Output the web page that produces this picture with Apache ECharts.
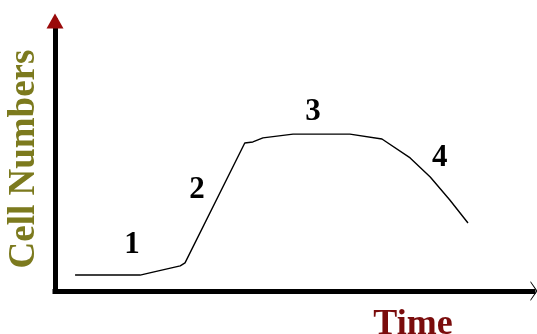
<!DOCTYPE html>
<html>
<head>
<meta charset="utf-8">
<script src="https://cdn.jsdelivr.net/npm/echarts@6/dist/echarts.min.js"></script>
<style>
  html, body { margin: 0; padding: 0; background: #ffffff; }
  #chart { width: 537px; height: 334px; }
</style>
</head>
<body>
<div id="chart"></div>
<script>
// Growth curve: time (arbitrary units) vs. cell numbers (arbitrary units)
var timeValues = [4.2, 17.8, 20.5, 26.2, 27.2, 39.7, 41.4, 43.5, 49.8, 61.7, 68.4, 74.3, 78.5, 82.6, 86.4];
var cellValues = [5.9, 5.9, 7.0, 9.3, 10.4, 54.8, 55.2, 56.7, 58.1, 58.1, 56.3, 49.3, 42.2, 33.7, 25.2];

// Phase markers placed beside the curve
var phaseNames = ['1', '2', '3', '4'];
var phaseTime  = [16.1, 29.7, 54.0, 80.5];
var phaseCells = [17.0, 37.4, 66.3, 49.3];

var axisMax = 100;
var serif = '"Liberation Serif", "Times New Roman", serif';

var curve = timeValues.map(function (t, i) { return [t, cellValues[i]]; });
var phases = phaseNames.map(function (n, i) { return { name: n, value: [phaseTime[i], phaseCells[i]] }; });

var chart = echarts.init(document.getElementById('chart'), null, { renderer: 'canvas' });
chart.setOption({
  animation: false,
  backgroundColor: '#ffffff',
  title: {
    text: 'Time',
    left: 408,
    top: 302,
    textAlign: 'center',
    textStyle: { fontFamily: serif, fontWeight: 'bold', fontSize: 36, color: '#7a0c0c' }
  },
  grid: { left: 55, right: 4, top: 21, bottom: 43, containLabel: false, outerBoundsMode: 'none' },
  xAxis: {
    type: 'value', min: 0, max: axisMax,
    axisLine: { lineStyle: { color: '#000000', width: 5, cap: 'square' } },
    axisTick: { show: false }, axisLabel: { show: false }, splitLine: { show: false }
  },
  yAxis: {
    type: 'value', min: 0, max: axisMax,
    name: 'Cell Numbers',
    nameLocation: 'middle',
    nameRotate: 90,
    nameGap: 12,
    nameTextStyle: { fontFamily: serif, fontWeight: 'bold', fontSize: 37, color: '#7c7a1e', padding: [0, 6, 0, 0] },
    axisLine: { lineStyle: { color: '#000000', width: 5, cap: 'square' } },
    axisTick: { show: false }, axisLabel: { show: false }, splitLine: { show: false }
  },
  series: [
    {
      type: 'line',
      data: curve,
      symbol: 'none',
      lineStyle: { color: '#000000', width: 1.4 },
      z: 3,
      markPoint: {
        silent: true,
        label: { show: false },
        data: [
          // arrowhead at the top of the vertical axis
          { coord: [0, axisMax], symbol: 'triangle', symbolSize: [17, 15],
            itemStyle: { color: '#9a0a0a' } },
          // open arrowhead at the end of the horizontal axis
          { coord: [axisMax, 0], symbol: 'path://M0,0 L10,10 L0,20 L0,18.4 L8.2,10 L0,1.6 Z',
            symbolSize: [7, 20], symbolOffset: [1, 0], itemStyle: { color: '#000000' } }
        ]
      }
    },
    {
      type: 'scatter',
      data: phases,
      symbolSize: 0,
      silent: true,
      itemStyle: { color: '#000000', opacity: 1 },
      label: {
        show: true,
        position: 'inside',
        formatter: '{b}',
        fontFamily: serif,
        fontWeight: 'bold',
        fontSize: 31,
        color: '#000000',
        textBorderWidth: 0
      }
    }
  ]
});
</script>
</body>
</html>
